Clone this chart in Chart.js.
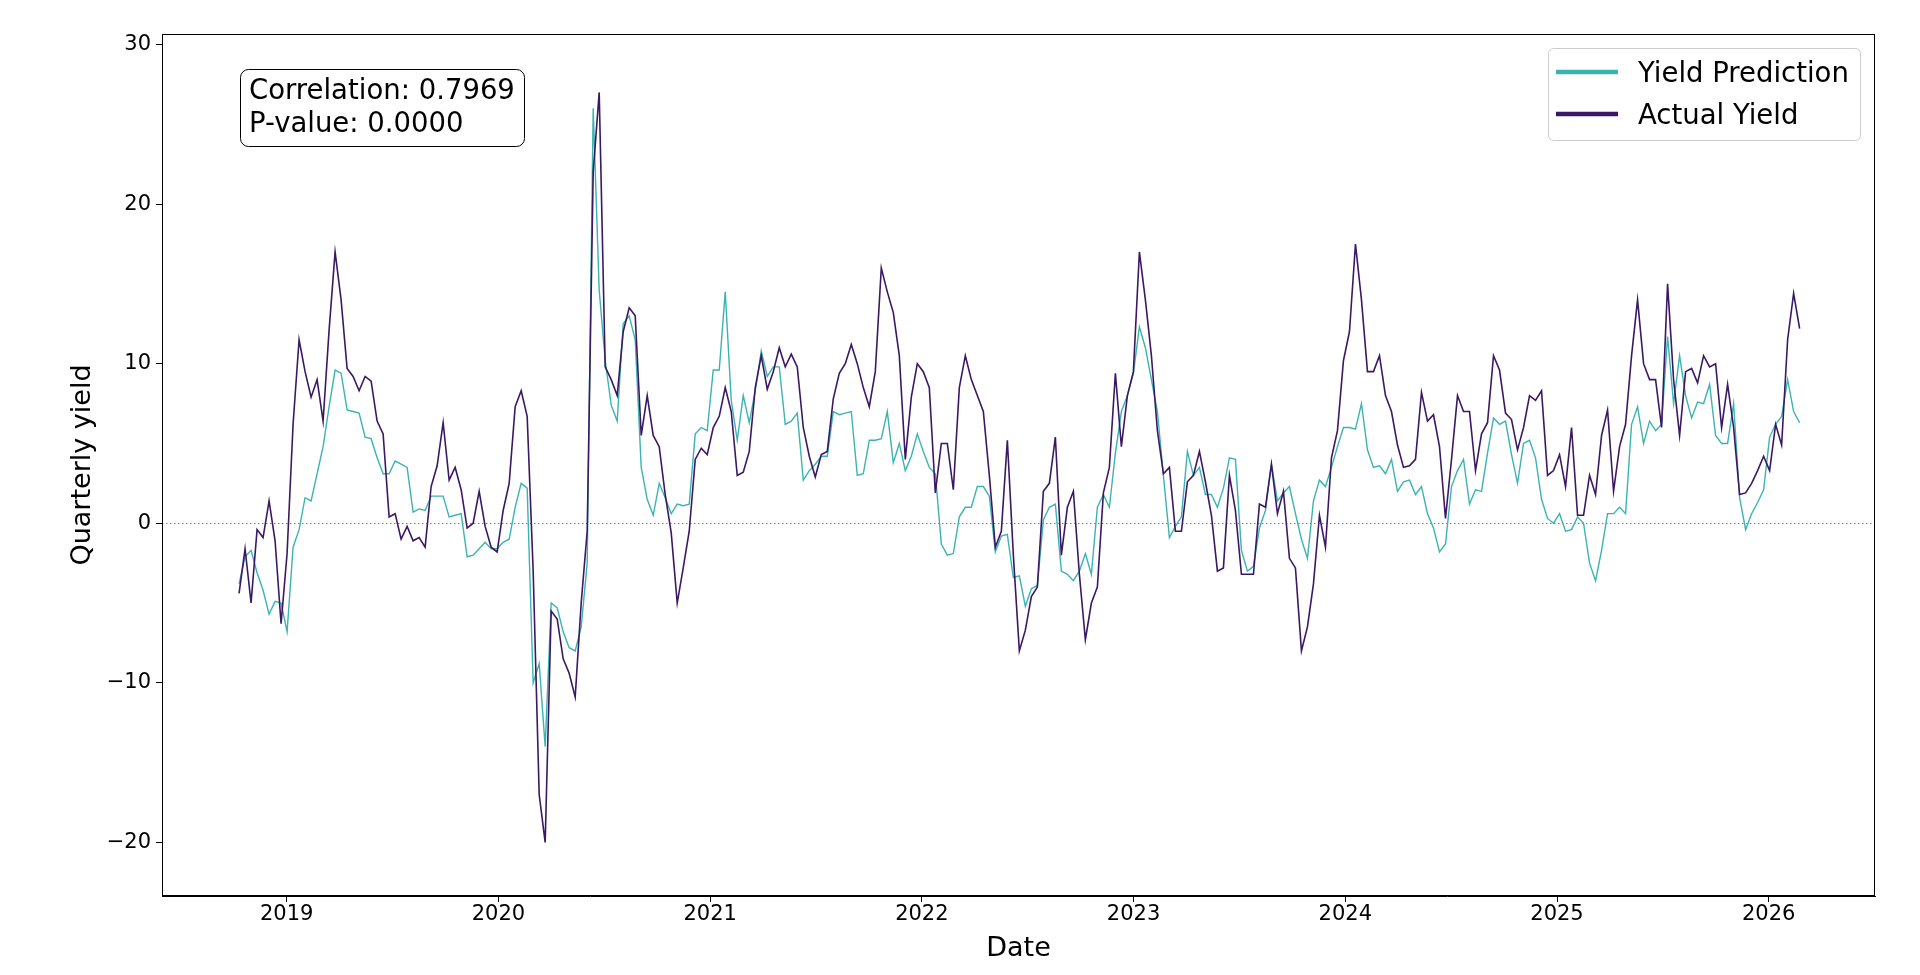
<!DOCTYPE html>
<html>
<head>
<meta charset="utf-8">
<title>Yield prediction vs actual yield</title>
<script src="https://cdn.jsdelivr.net/npm/chart.js@4.4.1/dist/chart.umd.min.js"></script>
<style>
  html, body { margin: 0; padding: 0; background: #fff; }
  #wrap { width: 1920px; height: 975px; }
</style>
</head>
<body>
<div id="wrap"><canvas id="yieldChart" width="1920" height="975"></canvas></div>
<script>
// samples every ~10 days, as decimal years
const sampleStartYear = 2018.775;
const sampleStepYears = 0.02835;

const actualYield = [
  -4.4, -1.6, -5.0, -0.4, -0.9, 1.4, -1.1, -6.3, -1.9, 6.2, 11.5, 9.5, 7.9, 9.0, 6.4, 12.1,
  17.0, 14.0, 9.7, 9.2, 8.3, 9.2, 8.9, 6.4, 5.6, 0.4, 0.6, -1.0, -0.2, -1.1, -0.9, -1.5,
  2.3, 3.6, 6.3, 2.7, 3.5, 2.1, -0.3, 0.0, 2.0, -0.2, -1.5, -1.8, 0.8, 2.5, 7.3, 8.3,
  6.7, -3.0, -17.0, -20.0, -5.5, -6.0, -8.5, -9.4, -10.9, -5.0, -0.5, 22.0, 27.0, 9.8, 9.0, 8.0,
  12.0, 13.5, 13.0, 5.5, 8.0, 5.5, 4.8, 1.8, -0.6, -5.0, -2.8, -0.5, 4.0, 4.7, 4.3, 6.0,
  6.7, 8.5, 7.0, 3.0, 3.2, 4.5, 8.5, 10.5, 8.4, 9.5, 11.0, 9.8, 10.6, 9.8, 6.0, 4.2,
  2.9, 4.3, 4.5, 7.8, 9.4, 10.0, 11.2, 10.0, 8.5, 7.3, 9.5, 16.0, 14.5, 13.2, 10.5, 4.0,
  7.9, 10.0, 9.5, 8.5, 1.9, 5.0, 5.0, 2.1, 8.5, 10.5, 9.0, 8.0, 7.0, 3.0, -1.5, -0.5,
  5.2, -2.0, -8.0, -6.7, -4.6, -4.0, 2.0, 2.5, 5.4, -2.0, 1.0, 2.0, -3.2, -7.3, -5.0, -4.0,
  1.9, 3.5, 9.4, 4.8, 8.0, 9.5, 17.0, 14.0, 10.5, 5.8, 3.1, 3.5, -0.5, -0.5, 2.6, 3.0,
  4.5, 2.6, 0.5, -3.0, -2.8, 3.0, 0.8, -3.2, -3.2, -3.2, 1.2, 1.0, 3.7, 0.6, 2.0, -2.2,
  -2.8, -8.0, -6.5, -3.8, 0.5, -1.5, 4.1, 5.8, 10.2, 12.0, 17.5, 14.0, 9.5, 9.5, 10.5, 8.0,
  7.0, 4.9, 3.5, 3.6, 4.0, 8.2, 6.4, 6.8, 4.8, 0.3, 4.0, 8.0, 7.0, 7.0, 3.3, 5.6,
  6.3, 10.5, 9.6, 6.9, 6.5, 4.6, 6.0, 8.0, 7.7, 8.3, 3.0, 3.3, 4.3, 2.3, 6.0, 0.5,
  0.5, 3.0, 1.8, 5.5, 7.1, 2.0, 4.8, 6.2, 10.5, 14.0, 10.0, 9.0, 9.0, 6.0, 15.0, 9.0,
  5.5, 9.5, 9.7, 8.8, 10.5, 9.8, 10.0, 6.0, 8.7, 6.0, 1.8, 1.9, 2.5, 3.3, 4.2, 3.3,
  6.2, 4.9, 11.5, 14.4, 12.2
];

const predictedYield = [
  -3.8, -2.1, -1.7, -3.1, -4.2, -5.7, -4.9, -5.0, -6.8, -1.5, -0.4, 1.6, 1.4, 3.1, 4.8, 7.3,
  9.6, 9.4, 7.1, 7.0, 6.9, 5.4, 5.3, 4.1, 3.1, 3.1, 3.9, 3.7, 3.5, 0.7, 0.9, 0.8,
  1.7, 1.7, 1.7, 0.4, 0.5, 0.6, -2.1, -2.0, -1.6, -1.2, -1.6, -1.6, -1.2, -1.0, 1.0, 2.5,
  2.2, -10.0, -8.8, -14.0, -5.0, -5.3, -6.8, -7.8, -8.0, -6.5, -2.5, 26.0, 14.6, 10.2, 7.4, 6.4,
  12.5, 13.0, 11.5, 3.5, 1.5, 0.5, 2.5, 1.6, 0.6, 1.2, 1.1, 1.2, 5.6, 6.0, 5.8, 9.6,
  9.6, 14.5, 7.7, 5.2, 8.0, 6.3, 8.3, 10.8, 9.2, 9.8, 9.8, 6.2, 6.4, 6.9, 2.7, 3.3,
  3.7, 4.2, 4.2, 7.0, 6.8, 6.9, 7.0, 3.0, 3.1, 5.2, 5.2, 5.3, 7.0, 3.8, 5.0, 3.3,
  4.2, 5.6, 4.5, 3.5, 3.1, -1.3, -2.0, -1.9, 0.4, 1.0, 1.0, 2.3, 2.3, 1.7, -1.8, -0.8,
  -0.7, -3.4, -3.3, -5.2, -4.1, -3.9, 0.2, 1.0, 1.2, -3.0, -3.2, -3.6, -3.0, -1.9, -3.2, 1.0,
  1.8, 1.0, 4.4, 7.0, 8.0, 9.4, 12.3, 11.0, 9.0, 7.0, 3.0, -0.9, -0.2, 0.4, 4.5, 3.0,
  3.5, 1.8, 1.8, 1.0, 2.2, 4.1, 4.0, -1.7, -3.0, -2.7, -0.3, 0.8, 3.7, 1.4, 1.9, 2.3,
  0.6, -1.0, -2.2, 1.4, 2.7, 2.3, 3.5, 4.8, 6.0, 6.0, 5.9, 7.5, 4.6, 3.5, 3.6, 3.1,
  4.0, 2.0, 2.6, 2.7, 1.8, 2.3, 0.6, -0.3, -1.8, -1.3, 2.3, 3.3, 4.0, 1.2, 2.1, 2.0,
  4.4, 6.6, 6.2, 6.4, 4.3, 2.5, 5.0, 5.2, 4.1, 1.5, 0.3, 0.0, 0.6, -0.5, -0.4, 0.4,
  0.0, -2.5, -3.6, -1.7, 0.6, 0.6, 1.0, 0.6, 6.2, 7.3, 5.0, 6.4, 5.8, 6.2, 11.7, 7.5,
  10.5, 8.0, 6.6, 7.6, 7.5, 8.7, 5.5, 5.0, 5.0, 7.5, 1.6, -0.4, 0.6, 1.3, 2.1, 5.4,
  6.2, 6.7, 9.0, 7.0, 6.3
];

const yearTicks = [2019, 2020, 2021, 2022, 2023, 2024, 2025, 2026];
const yieldTicks = [-20, -10, 0, 10, 20, 30];

const correlationText = "Correlation: 0.7969";
const pValueText = "P-value: 0.0000";

const TEAL = "#3ab3b1";
const PURPLE = "#3b1864";
const FONT = "'DejaVu Sans', 'Liberation Sans', sans-serif";

const sampleYears = actualYield.map((_, i) => sampleStartYear + i * sampleStepYears);
const toPoints = values => values.map((v, i) => ({ x: sampleYears[i], y: v }));

const minusLabel = v => (v < 0 ? "\u2212" + Math.abs(v) : String(v));

const extras = {
    id: "extras",
    beforeDatasetsDraw(chart) {
        const { ctx, chartArea: a, scales } = chart;
        const zy = Math.round(scales.y.getPixelForValue(0)) + 0.5;
        ctx.save();
        ctx.strokeStyle = "#7f7f7f";
        ctx.lineWidth = 1;
        ctx.setLineDash([1.5, 2.5]);
        ctx.beginPath();
        ctx.moveTo(a.left, zy);
        ctx.lineTo(a.right, zy);
        ctx.stroke();
        ctx.restore();
    },
    afterDatasetsDraw(chart) {
        const { ctx, chartArea: a } = chart;
        ctx.save();

        // frame on all four sides
        ctx.strokeStyle = "#000";
        ctx.lineWidth = 1;
        ctx.strokeRect(Math.round(a.left) + 0.5, Math.round(a.top) + 0.5,
            Math.round(a.right - a.left) - 1, Math.round(a.bottom - a.top) - 1);

        // stats box, top left
        ctx.beginPath();
        ctx.roundRect(240.5, 69.5, 284, 77, 8);
        ctx.fillStyle = "#fff";
        ctx.fill();
        ctx.strokeStyle = "#000";
        ctx.stroke();
        ctx.fillStyle = "#000";
        ctx.font = "27.5px " + FONT;
        ctx.textAlign = "left";
        ctx.textBaseline = "middle";
        ctx.fillText(correlationText, 249, 92);
        ctx.fillText(pValueText, 249, 125);

        // legend, top right
        ctx.beginPath();
        ctx.roundRect(1548.5, 48.5, 312, 92, 5);
        ctx.fillStyle = "rgba(255,255,255,0.8)";
        ctx.fill();
        ctx.strokeStyle = "#cccccc";
        ctx.stroke();
        const items = [
            { label: "Yield Prediction", color: TEAL, y: 72 },
            { label: "Actual Yield", color: PURPLE, y: 114 }
        ];
        items.forEach(item => {
            ctx.strokeStyle = item.color;
            ctx.lineWidth = 4.5;
            ctx.beginPath();
            ctx.moveTo(1556, item.y);
            ctx.lineTo(1618, item.y);
            ctx.stroke();
            ctx.fillStyle = "#000";
            ctx.fillText(item.label, 1638, item.y + 2.5);
        });
        ctx.restore();
    }
};

const canvas = document.getElementById("yieldChart");

new Chart(canvas, {
    type: "line",
    data: {
        datasets: [
            {
                label: "Actual Yield",
                data: toPoints(actualYield),
                borderColor: PURPLE,
                borderWidth: 1.6,
                pointRadius: 0,
                tension: 0,
                order: 0
            },
            {
                label: "Yield Prediction",
                data: toPoints(predictedYield),
                borderColor: TEAL,
                borderWidth: 1.4,
                pointRadius: 0,
                tension: 0,
                order: 1
            }
        ]
    },
    options: {
        responsive: false,
        animation: false,
        devicePixelRatio: 1,
        layout: { padding: { top: 34, right: 45, left: 0, bottom: 0 } },
        plugins: {
            legend: { display: false },
            tooltip: { enabled: false }
        },
        scales: {
            x: {
                type: "linear",
                min: 2018.411,
                max: 2026.502,
                afterBuildTicks: scale => { scale.ticks = yearTicks.map(v => ({ value: v })); },
                afterFit: scale => { scale.height = 79; },
                ticks: {
                    color: "#000",
                    font: { family: FONT, size: 21 },
                    padding: 0,
                    maxRotation: 0,
                    callback: v => String(v)
                },
                grid: { drawOnChartArea: false, drawTicks: true, tickLength: 6, tickColor: "#000" },
                border: { display: true, color: "#000", width: 1 },
                title: {
                    display: true,
                    text: "Date",
                    color: "#000",
                    font: { family: FONT, size: 27 },
                    padding: { top: 0, bottom: 9.5 }
                }
            },
            y: {
                min: -23.36,
                max: 30.66,
                afterBuildTicks: scale => { scale.ticks = yieldTicks.map(v => ({ value: v })); },
                afterFit: scale => { scale.width = 162; },
                ticks: {
                    color: "#000",
                    font: { family: FONT, size: 21 },
                    padding: 5,
                    callback: v => minusLabel(v)
                },
                grid: { drawOnChartArea: false, drawTicks: true, tickLength: 6, tickColor: "#000" },
                border: { display: true, color: "#000", width: 1 },
                title: {
                    display: true,
                    text: "Quarterly yield",
                    color: "#000",
                    font: { family: FONT, size: 27 },
                    padding: { top: 67, bottom: 0 }
                }
            }
        }
    },
    plugins: [extras]
});
</script>
</body>
</html>
